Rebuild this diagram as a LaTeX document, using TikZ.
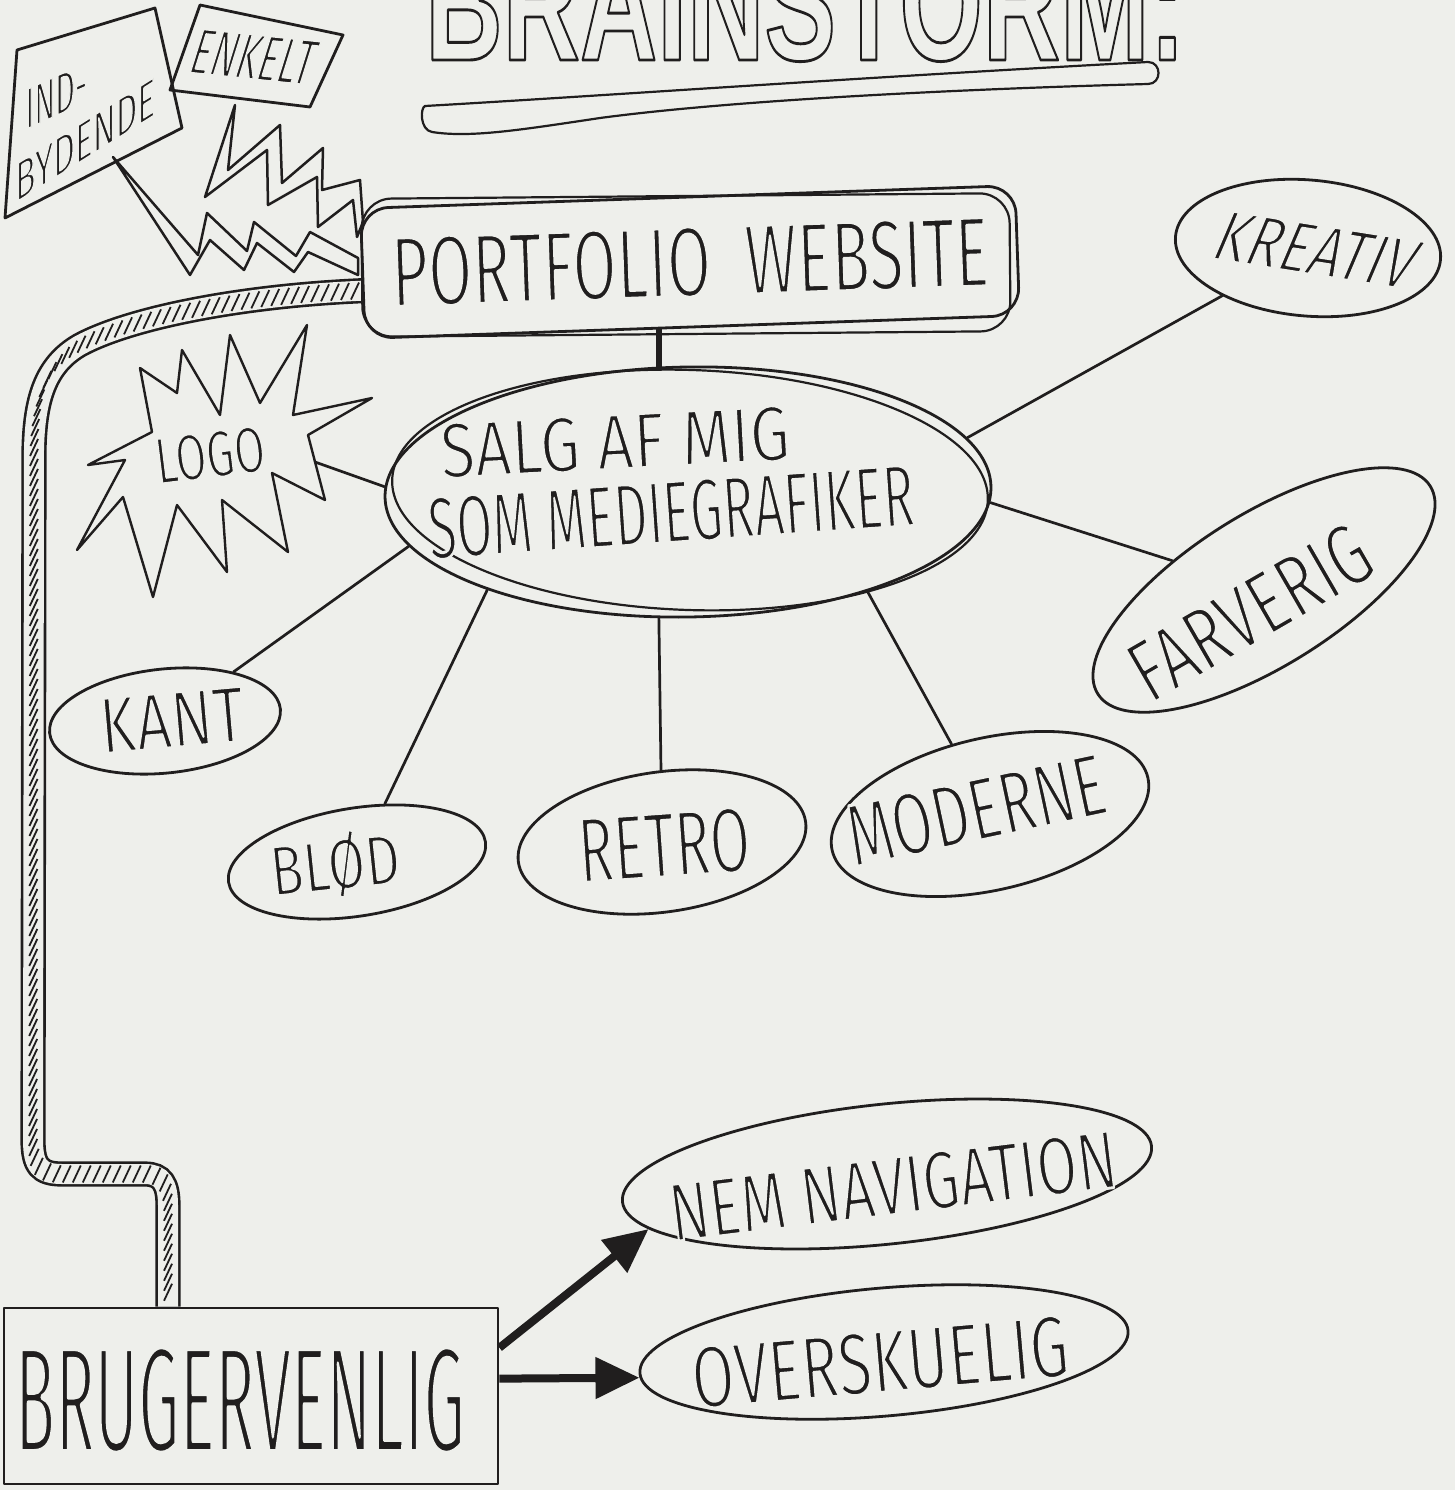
\documentclass[tikz,border=0pt]{standalone}
\usepackage{fontspec}
\usepackage{graphicx}
\usetikzlibrary{shapes.geometric,arrows.meta,decorations.markings,calc}
\newfontfamily\hand{Fira Sans}
\newfontfamily\titlefont{Liberation Sans}
\definecolor{paper}{RGB}{238,239,235}
\definecolor{ink}{RGB}{32,30,30}
\makeatletter
% hand lettering: fill in ink, outline stroked in paper colour to thin the strokes
\newcommand\handtxt[3]{\resizebox{#1pt}{#2pt}{\fontsize{\the\numexpr#2*145/100\relax}{12}\selectfont\hand
  \special{pdf:literal direct 2 Tr \strip@pt\dimexpr#2pt*50/1000\relax\space w 1 j 0.933 0.937 0.922 RG}#3\special{pdf:literal direct 0 Tr}}}
\makeatother
\newcommand\outlinetxt[1]{\special{pdf:literal direct 1 Tr 2.8 w 1 j}#1\special{pdf:literal direct 0 Tr}}
\pgfdeclarelayer{bg}
\pgfsetlayers{bg,main}
\begin{document}
\begin{tikzpicture}[x=1pt,y=-1pt,
  pen/.style={draw=ink, line width=2.8pt, line join=round, line cap=round},
  thinpen/.style={draw=ink, line width=2.7pt, line cap=round},
  oval/.style={ellipse, pen, inner sep=0pt},
  lbl/.style={inner sep=0pt, text=ink},
  bigarrow/.style={draw=ink, line width=8pt, -{Triangle[length=44pt,width=40pt]}},
  pipeedge/.style={draw=ink, line width=2.6pt, double=paper, double distance=20pt},
  hatch/.style={postaction={decorate, decoration={markings,
     mark=between positions 0.005 and 0.995 step 10pt with {\pgftransformresetnontranslations
       \draw[ink, line width=1.8pt] (-4pt,-8.5pt) -- (4pt,8.5pt);}}}}
]
\useasboundingbox (0,0) rectangle (1455,1490);
\begin{pgfonlayer}{bg}
  \fill[paper] (0,0) rectangle (1455,1490);
\end{pgfonlayer}

% ---------- title ----------
\node[lbl, anchor=base west] (title) at (425,60)
  {\outlinetxt{\resizebox{760pt}{115pt}{\titlefont\bfseries\fontsize{160}{160}\selectfont BRAINSTORM:}}};
\draw[pen, line width=2.2pt] (425,106) .. controls (600,96) and (850,78) .. (1148,62)
  .. controls (1162,62) and (1162,84) .. (1148,84)
  .. controls (1000,88) and (750,98) .. (600,118)
  .. controls (520,130) and (470,138) .. (432,132)
  .. controls (420,130) and (420,108) .. (425,106) -- cycle;

% ---------- top-left boxes and bolts ----------
\draw[pen] (17,50) -- (155,8) -- (182,128) -- (5,218) -- cycle;
\node[lbl, anchor=base west, yslant=0.45, transform shape] (ind1) at (25,130) {\handtxt{62}{40}{IND-}};
\node[lbl, anchor=base west, yslant=0.63, transform shape] (ind2) at (15,203) {\handtxt{140}{38}{BYDENDE}};
\draw[pen] (200,5) -- (343,35) -- (310,107) -- (170,90) -- cycle;
\node[lbl, rotate=-6, xslant=0.2, transform shape] (enk) at (254,57) {\handtxt{122}{45}{ENKELT}};

\draw[pen, line width=2.5pt] (113,157) -- (198,255) -- (207,213) -- (247,251) -- (254,222) -- (296,256)
  -- (310,232) -- (358,258) -- (358,275) -- (308,252) -- (294,272) -- (257,243) -- (244,270)
  -- (210,240) -- (190,275) -- cycle;
\draw[pen, line width=2.5pt] (235,105) -- (228,170) -- (280,125) -- (282,183) -- (323,148) -- (322,190)
  -- (360,180) -- (363,222) -- (357,237) -- (353,200) -- (318,227) -- (317,177) -- (268,205)
  -- (267,150) -- (205,197) -- cycle;

% ---------- main nodes ----------
\node[pen, rounded corners=28pt, minimum width=655pt, minimum height=130pt, inner sep=0pt,
      rotate=2, text=ink] (portfolio) at (690,262) {\handtxt{598}{70}{PORTFOLIO\ \ WEBSITE}};
\node[pen, line width=2.2pt, rounded corners=30pt, minimum width=648pt, minimum height=138pt,
      rotate=0.5] (portfolio2) at (686,265) {};

\node[oval, minimum width=606pt, minimum height=250pt, rotate=1] (salg) at (688,492) {};
\node[oval, line width=2.2pt, minimum width=596pt, minimum height=240pt, rotate=-2] (salg2) at (690,490) {};
\node[lbl, rotate=3] (salgA) at (615,442) {\handtxt{350}{55}{SALG AF MIG}};
\node[lbl, rotate=4] (salgB) at (671,512) {\handtxt{487}{62}{SOM MEDIEGRAFIKER}};

\node[oval, minimum width=232pt, minimum height=104pt, rotate=6] (kant) at (165,721) {};
\node[lbl, rotate=5] (kantT) at (172,720) {\handtxt{145}{55}{KANT}};
\node[oval, minimum width=260pt, minimum height=108pt, rotate=9] (blod) at (357,862) {};
\node[lbl, rotate=6] (blodT) at (335,865) {\handtxt{130}{58}{BLØD}};
\node[oval, minimum width=290pt, minimum height=140pt, rotate=8] (retro) at (662,842) {};
\node[lbl, rotate=4] (retroT) at (664,845) {\handtxt{172}{65}{RETRO}};
\node[oval, minimum width=324pt, minimum height=152pt, rotate=13] (moderne) at (990,814) {};
\node[lbl, rotate=12] (moderneT) at (976,810) {\handtxt{262}{62}{MODERNE}};
\node[oval, minimum width=392pt, minimum height=152pt, rotate=32] (farverig) at (1264,590) {};
\node[lbl, rotate=30] (farverigT) at (1250,612) {\handtxt{265}{62}{FARVERIG}};
\node[oval, minimum width=266pt, minimum height=136pt, rotate=-5] (kreativ) at (1308,248) {};
\node[lbl, rotate=-9, xslant=0.25, transform shape] (kreativT) at (1317,250) {\handtxt{200}{50}{KREATIV}};
\node[oval, minimum width=532pt, minimum height=140pt, rotate=6] (nem) at (887,1174) {};
\node[lbl, rotate=7] (nemT) at (893,1186) {\handtxt{450}{58}{NEM NAVIGATION}};
\node[oval, minimum width=490pt, minimum height=128pt, rotate=5] (ovr) at (884,1352) {};
\node[lbl, rotate=5] (ovrT) at (880,1362) {\handtxt{378}{62}{OVERSKUELIG}};

\node[pen, minimum width=494pt, minimum height=176pt, inner sep=0pt] (brug) at (251,1396) {};
\node[lbl] (brugT) at (240,1400) {\handtxt{450}{105}{BRUGERVENLIG}};
\coordinate (brugtop) at ($(brug.north west)!0.333!(brug.north east)$);

% ---------- logo star ----------
\draw[pen, line width=2.4pt] (88,465) -- (152,432) -- (140,368) -- (177,393) -- (182,350) -- (220,415)
  -- (230,335) -- (260,403) -- (307,325) -- (293,415) -- (372,398) -- (308,435) -- (325,500)
  -- (272,473) -- (288,552) -- (222,500) -- (227,572) -- (177,505) -- (153,597) -- (123,497)
  -- (77,550) -- (125,460) -- cycle;
\node[lbl, rotate=7] (logo) at (210,455) {\handtxt{110}{46}{LOGO}};
\coordinate (logoR) at (315,462);

% ---------- hatched pipe ----------
\def\pipepath{(portfolio.183) .. controls (240,296) and (130,318) .. (80,345)
  .. controls (45,365) and (35,400) .. (34,450) -- (33,1140)
  .. controls (33,1166) and (40,1174) .. (62,1174) -- (145,1174)
  .. controls (162,1174) and (168,1184) .. (168,1205) -- (brugtop)}
\begin{pgfonlayer}{bg}
  \draw[pipeedge] \pipepath;
  \path[hatch] \pipepath;
\end{pgfonlayer}

% ---------- connectors ----------
\draw[ink, line width=6pt] (salg.102) -- (salg.102 |- portfolio.south);
\draw[thinpen] (logoR) -- (salg.178);
\draw[thinpen] (salg.10) -- (kreativ);
\draw[thinpen] (salg.-3) -- (farverig);
\draw[thinpen] (salg.190) -- (kant);
\draw[thinpen] (salg.205) -- (blod);
\draw[thinpen] (salg.256) -- (retro);
\draw[thinpen] (salg.330) -- (moderne);

\draw[bigarrow] (brug.11) -- (nem.187);
\draw[bigarrow] (brug.4) -- (ovr.181);
\end{tikzpicture}
\end{document}
